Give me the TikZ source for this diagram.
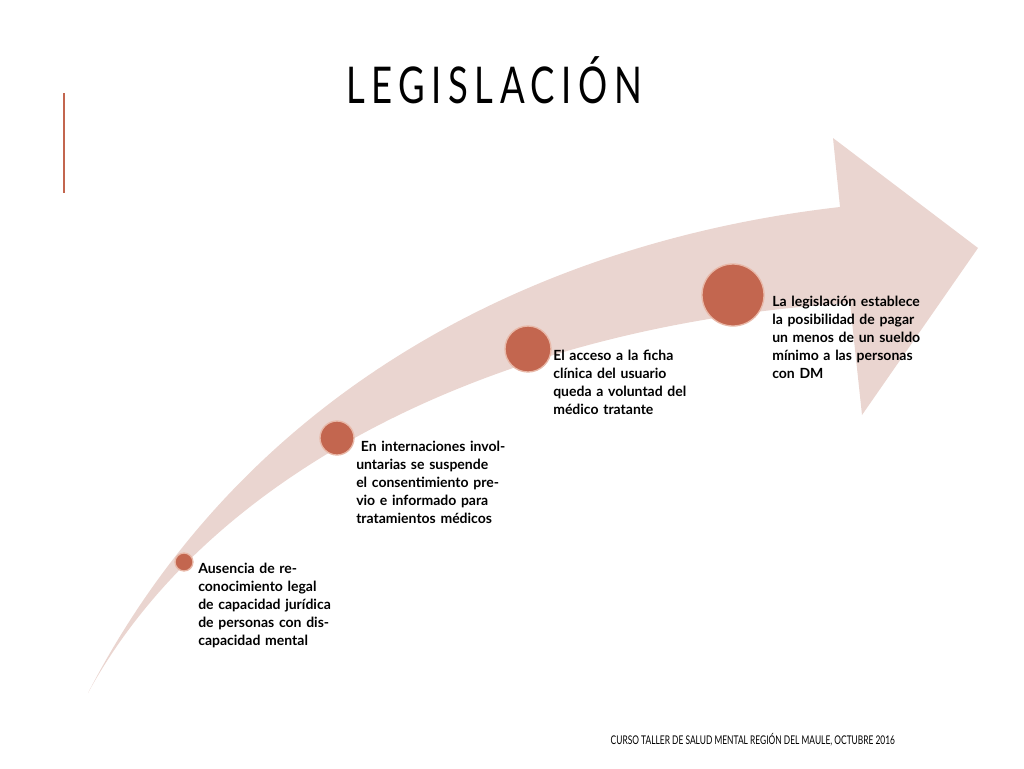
\documentclass[tikz,border=0pt]{standalone}
\usepackage{fontspec}
\setmainfont{Lato}
\definecolor{bandfill}{HTML}{EAD5D0}
\definecolor{dotfill}{HTML}{C3664F}
\definecolor{dotline}{HTML}{E8B8A8}
\begin{document}
\begin{tikzpicture}[x=0.75pt,y=-0.75pt,
  dot/.style={circle,fill=dotfill,draw=dotline,line width=1pt,inner sep=0pt},
  step text/.style={anchor=north west,align=left,text width=#1,font=\bfseries\fontsize{10.5}{13.5}\selectfont,inner sep=0pt}]
  \useasboundingbox (0,0) rectangle (1024,768);
  % title & bar
  \node (title) at (494,80) {\scalebox{0.72}[1]{\fontsize{38}{40}\selectfont\addfontfeatures{LetterSpace=18}LEGISLACIÓN}};
  \draw[dotfill,line width=1.5pt] (64,93) -- (64,193);
  % band
  \fill[bandfill] (88,693) .. controls (250,380) and (550,240) .. (840,207)
    -- (833,138) -- (978,248) -- (862,415) -- (850,303)
    .. controls (500,325) and (210,470) .. (88,693) -- cycle;
  % dots
  \node[dot,minimum size=18pt*0.75] (d1) at (184,562) {};
  \node[dot,minimum size=34pt*0.75] (d2) at (337,438) {};
  \node[dot,minimum size=46pt*0.75] (d3) at (528,349) {};
  \node[dot,minimum size=62pt*0.75] (d4) at (733,295) {};
  % texts
  \node[step text=110pt] (t1) at (198,563) {Ausencia de reconocimiento legal de capacidad jurídica de personas con discapacidad mental};
  \node[step text=115pt] (t2) at (356,441) {\ En internaciones involuntarias se suspende el consentimiento previo e informado para tratamientos médicos};
  \node[step text=115pt] (t3) at (553,350) {El acceso a la ficha clínica del usuario queda a voluntad del médico tratante};
  \node[step text=118pt] (t4) at (772,296) {La legislación establece la posibilidad de pagar un menos de un sueldo mínimo a las personas con DM};
  % footer
  \node[anchor=west] (foot) at (606,740) {\scalebox{0.7}[1]{\fontsize{9}{10}\selectfont CURSO TALLER DE SALUD MENTAL REGIÓN DEL MAULE, OCTUBRE 2016}};
\end{tikzpicture}
\end{document}
